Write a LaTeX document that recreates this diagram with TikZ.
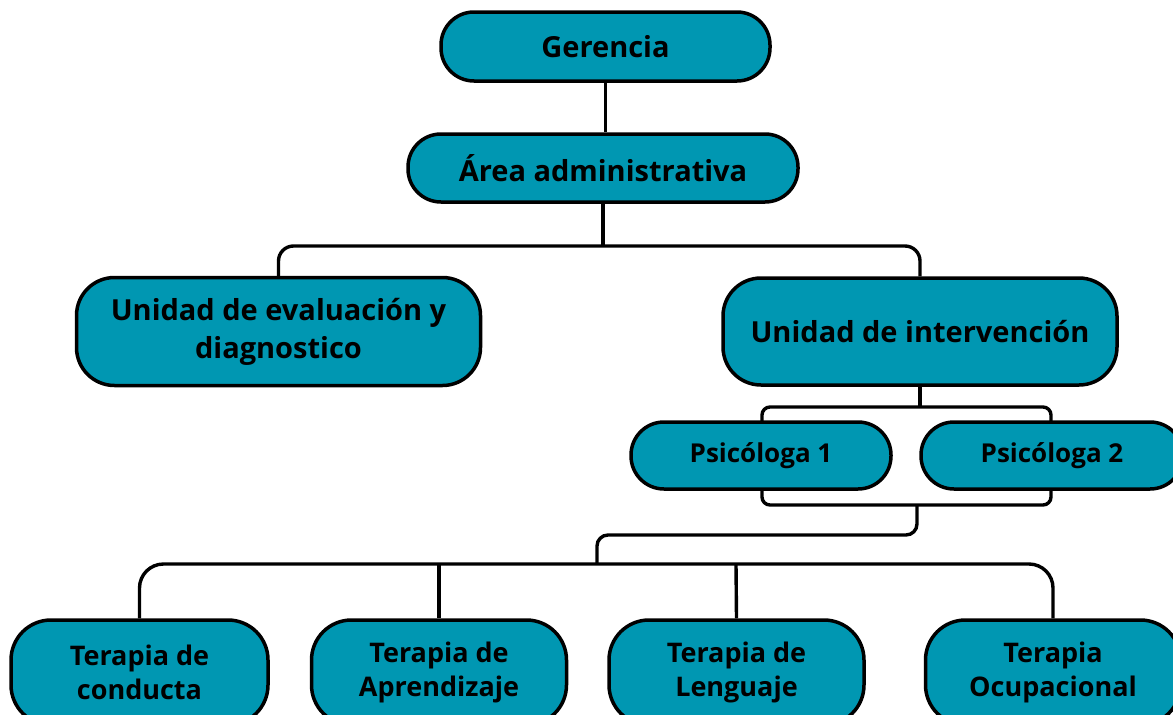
\documentclass[tikz,border=0pt]{standalone}
\usepackage{fontspec}
\setmainfont{Open Sans}
\usetikzlibrary{backgrounds}
\definecolor{teal1}{HTML}{0097B2}
\tikzset{
  box/.style={draw=black, line width=3.5pt, fill=teal1, rounded corners=#1,
    inner sep=0pt, align=center, font=\fontsize{29}{38}\selectfont\bfseries},
  box/.default=30pt,
  link/.style={draw=black, line width=3.4pt},
}
\begin{document}
\begin{tikzpicture}[x=1pt,y=-1pt]
\useasboundingbox (0,0) rectangle (1173,715);
\clip (0,0) rectangle (1173,715);
% nodes
\node[box=33pt, minimum width=329pt, minimum height=69pt] (ger) at (605.5,46.5) {Gerencia};
\node[box=33pt, minimum width=390pt, minimum height=68pt] (area) at (603,168) {Área administrativa};
\node[box=38pt, minimum width=404pt, minimum height=108pt] (ueval) at (278.5,331.5) {Unidad de evaluación y\\diagnostico};
\node[box=38pt, minimum width=394pt, minimum height=107pt] (uint) at (920,331.5) {Unidad de intervención};
\tikzset{pbox/.style={box=33pt, minimum height=67pt, font=\fontsize{26}{34}\selectfont\bfseries}}
\node[pbox, minimum width=260pt] (ps1) at (761,455.5) {Psicóloga 1};
\node[pbox, minimum width=262pt] (ps2) at (1052,455.5) {Psicóloga 2};
\tikzset{tbox/.style={box=40pt, minimum width=255pt, minimum height=105pt, font=\fontsize{27}{34}\selectfont\bfseries}}
\node[tbox, minimum width=257pt] (tc) at (139.5,672.5) {Terapia de\\conducta};
\node[tbox] (ta) at (439,672.5) {Terapia de\\Aprendizaje};
\node[tbox] (tl) at (736.5,672.5) {Terapia de\\Lenguaje};
\node[tbox] (toc) at (1053,672.5) {Terapia\\Ocupacional};
% connectors
\coordinate (j1) at (603,246);
\coordinate (j2) at (920,407);
\coordinate (j3) at (917,505);
\coordinate (j4) at (597,564);
\coordinate (j5) at (439,564);
\coordinate (j6) at (736,564);
\begin{scope}[on background layer]
\draw[link] (ger.south) -- (ger.south |- area.north);
\draw[link] (area.south) -- (j1);
\draw[link, rounded corners=15pt] (ueval.north) |- (j1) -| (uint.north);
\draw[link] (uint.south) -- (j2);
\draw[link, rounded corners=8pt] (762,407) rectangle (1051,505);
\draw[link, rounded corners=11pt] (j3) -- (917,535) -- (597,535) -- (j4);
\draw[link, rounded corners=24pt] (tc.north) |- (j4) -| (toc.north);
\draw[link] (j5) -- (ta.north);
\draw[link] (j6) -- (tl.north);
\end{scope}
\end{tikzpicture}
\end{document}
